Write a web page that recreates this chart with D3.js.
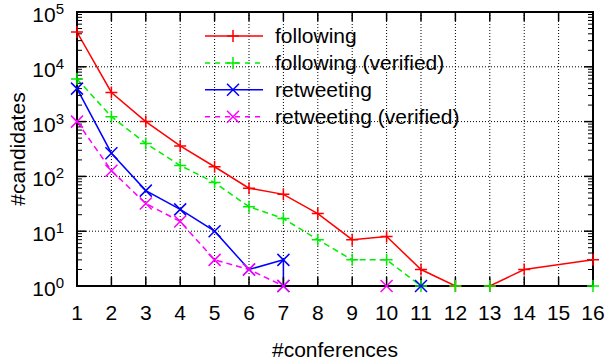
<!DOCTYPE html>
<html>
<head>
<meta charset="utf-8">
<script src="https://cdn.jsdelivr.net/npm/d3@7"></script>
<style>
  body { margin: 0; background: #fff; }
  svg { display: block; font-family: "Liberation Sans", Arial, Helvetica, sans-serif; }
</style>
</head>
<body>
<div id="main"></div>
<script>
// x positions and counts (log scale, missing points are left out)
const followingX = [1, 2, 3, 4, 5, 6, 7, 8, 9, 10, 11, 12, 13, 14, 16];
const following = [43000, 3400, 1000, 360, 150, 61, 47, 21, 7, 8, 2, 1, 1, 2, 3];
const followingVerX = [1, 2, 3, 4, 5, 6, 7, 8, 9, 10, 11, 12, 13, 16];
const followingVer = [6000, 1230, 400, 158, 77, 28, 17, 7, 3, 3, 1, 1, 1, 1];
const retweetingX = [1, 2, 3, 4, 5, 6, 7, 7, 11];
const retweeting = [4000, 265, 55, 25, 10, 2, 3, 1, 1];
const retweetingVerX = [1, 2, 3, 4, 5, 6, 7, 10];
const retweetingVer = [1000, 127, 32, 15, 3, 2, 1, 1];

const xTicks = [1, 2, 3, 4, 5, 6, 7, 8, 9, 10, 11, 12, 13, 14, 15, 16];
const yExponents = [0, 1, 2, 3, 4, 5];

const seriesNames = ["following", "following (verified)", "retweeting", "retweeting (verified)"];

const ctx = {
    w: 608,
    h: 362,
    left: 77,
    right: 593,
    top: 12,
    bottom: 286,
    font: 21,
};

const series = [
    { name: seriesNames[0], xs: followingX, ys: following, color: "#ff0000", dash: null, marker: "plus" },
    { name: seriesNames[1], xs: followingVerX, ys: followingVer, color: "#00ee00", dash: "6,4", marker: "plus" },
    { name: seriesNames[2], xs: retweetingX, ys: retweeting, color: "#0000ff", dash: null, marker: "cross" },
    { name: seriesNames[3], xs: retweetingVerX, ys: retweetingVer, color: "#ff00ff", dash: "6,4", marker: "cross" },
];

function markerPath(type, cx, cy) {
    const r = 6;
    if (type == "plus") {
        return `M${cx - r},${cy}H${cx + r}M${cx},${cy - r}V${cy + r}`;
    }
    return `M${cx - r},${cy - r}L${cx + r},${cy + r}M${cx - r},${cy + r}L${cx + r},${cy - r}`;
}

function createViz() {
    let svgEl = d3.select("#main").append("svg")
        .attr("width", ctx.w)
        .attr("height", ctx.h);

    let x = d3.scaleLinear().domain([1, 16]).range([ctx.left, ctx.right]);
    let y = d3.scaleLog().domain([1, 1e5]).range([ctx.bottom, ctx.top]);

    // dotted grid
    let grid = svgEl.append("g")
        .attr("stroke", "#000")
        .attr("stroke-width", 1)
        .attr("stroke-dasharray", "1,2");
    grid.selectAll(".gx")
        .data(xTicks.slice(1, -1))
        .enter()
        .append("line")
        .attr("x1", (d) => x(d)).attr("x2", (d) => x(d))
        .attr("y1", ctx.top).attr("y2", ctx.bottom);
    grid.selectAll(".gy")
        .data(yExponents.slice(1, -1))
        .enter()
        .append("line")
        .attr("x1", ctx.left).attr("x2", ctx.right)
        .attr("y1", (d) => y(Math.pow(10, d))).attr("y2", (d) => y(Math.pow(10, d)));

    // lines, clipped to the plot
    svgEl.append("clipPath").attr("id", "plotClip")
        .append("rect")
        .attr("x", ctx.left).attr("y", ctx.top)
        .attr("width", ctx.right - ctx.left).attr("height", ctx.bottom - ctx.top);

    let line = d3.line().x((d) => x(d[0])).y((d) => y(d[1]));
    let linesG = svgEl.append("g").attr("clip-path", "url(#plotClip)");
    series.forEach(function (s) {
        linesG.append("path")
            .attr("d", line(s.xs.map((v, i) => [v, s.ys[i]])))
            .attr("fill", "none")
            .attr("stroke", s.color)
            .attr("stroke-width", 1.5)
            .attr("stroke-dasharray", s.dash);
    });

    // frame and ticks
    let axisG = svgEl.append("g").attr("stroke", "#000");
    axisG.append("rect")
        .attr("x", ctx.left).attr("y", ctx.top)
        .attr("width", ctx.right - ctx.left).attr("height", ctx.bottom - ctx.top)
        .attr("fill", "none")
        .attr("stroke-width", 2);
    xTicks.forEach(function (t) {
        axisG.append("line")
            .attr("x1", x(t)).attr("x2", x(t))
            .attr("y1", ctx.bottom).attr("y2", ctx.bottom - 9)
            .attr("stroke-width", 1.5);
        axisG.append("line")
            .attr("x1", x(t)).attr("x2", x(t))
            .attr("y1", ctx.top).attr("y2", ctx.top + 9)
            .attr("stroke-width", 1.5);
    });
    yExponents.forEach(function (e) {
        let v = Math.pow(10, e);
        [[ctx.left, 1], [ctx.right, -1]].forEach(function (side) {
            axisG.append("line")
                .attr("x1", side[0]).attr("x2", side[0] + side[1] * 9)
                .attr("y1", y(v)).attr("y2", y(v))
                .attr("stroke-width", 1.5);
            if (e < 5) {
                for (let m = 2; m < 10; m++) {
                    axisG.append("line")
                        .attr("x1", side[0]).attr("x2", side[0] + side[1] * 5)
                        .attr("y1", y(v * m)).attr("y2", y(v * m))
                        .attr("stroke-width", 1);
                }
            }
        });
    });

    // markers
    series.forEach(function (s) {
        svgEl.append("g")
            .selectAll("path")
            .data(s.xs.map((v, i) => [v, s.ys[i]]))
            .enter()
            .append("path")
            .attr("d", (d) => markerPath(s.marker, x(d[0]), y(d[1])))
            .attr("stroke", s.color)
            .attr("stroke-width", 1.5)
            .attr("fill", "none");
    });

    // tick labels
    svgEl.append("g").selectAll("text")
        .data(xTicks)
        .enter()
        .append("text")
        .attr("x", (d) => x(d))
        .attr("y", 320)
        .attr("text-anchor", "middle")
        .attr("font-size", ctx.font)
        .attr("fill", "#000")
        .text((d) => d);

    let yl = svgEl.append("g").selectAll("text")
        .data(yExponents)
        .enter()
        .append("text")
        .attr("x", 64)
        .attr("y", (d) => y(Math.pow(10, d)) + 10)
        .attr("text-anchor", "end")
        .attr("font-size", ctx.font)
        .attr("fill", "#000");
    yl.append("tspan").text("10");
    yl.append("tspan")
        .attr("font-size", 15)
        .attr("dy", -8)
        .text((d) => d);

    // axis titles
    svgEl.append("text")
        .attr("x", (ctx.left + ctx.right) / 2)
        .attr("y", 357)
        .attr("text-anchor", "middle")
        .attr("font-size", ctx.font)
        .text("#conferences");
    svgEl.append("text")
        .attr("transform", `translate(25,${(ctx.top + ctx.bottom) / 2}) rotate(-90)`)
        .attr("text-anchor", "middle")
        .attr("font-size", ctx.font)
        .text("#candidates");

    // legend
    let legendG = svgEl.append("g").attr("transform", "translate(205,36)");
    series.forEach(function (s, i) {
        let row = legendG.append("g").attr("transform", `translate(0,${i * 26.9})`);
        row.append("line")
            .attr("x1", 0).attr("x2", 58)
            .attr("y1", 0).attr("y2", 0)
            .attr("stroke", s.color)
            .attr("stroke-width", 1.5)
            .attr("stroke-dasharray", s.dash ? "5,5" : null);
        row.append("path")
            .attr("d", markerPath(s.marker, 28, 0))
            .attr("stroke", s.color)
            .attr("stroke-width", 1.5);
        row.append("text")
            .attr("x", 70)
            .attr("y", 7)
            .attr("font-size", ctx.font)
            .text(s.name);
    });
};

createViz();
</script>
</body>
</html>
